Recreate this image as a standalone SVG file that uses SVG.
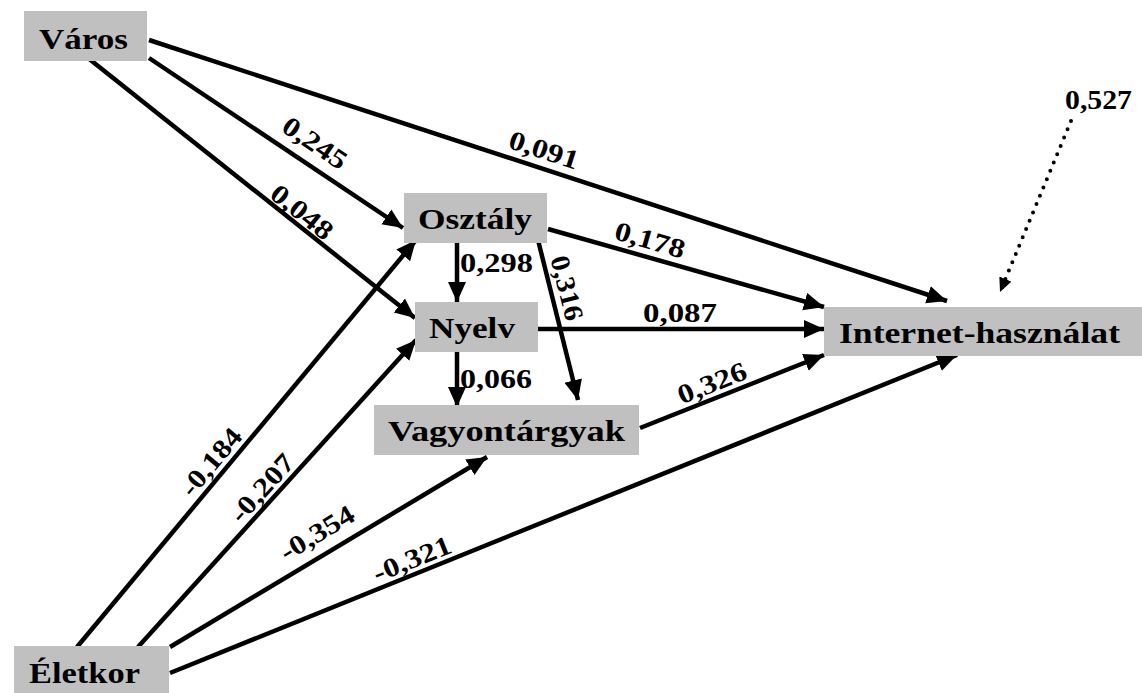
<svg xmlns="http://www.w3.org/2000/svg" width="1142" height="693" viewBox="0 0 1142 693">
<style>
.box{fill:#c0c0c0;stroke:none}
.nt{font-family:"Liberation Serif","Times New Roman",Times,serif;font-weight:bold;font-size:30px;fill:#000}
.lb{font-family:"Liberation Serif","Times New Roman",Times,serif;font-weight:bold;font-size:27px;fill:#000;text-anchor:middle}
.lh{font-family:"Liberation Serif","Times New Roman",Times,serif;font-weight:bold;font-size:27px;fill:#000}
.ed{stroke:#000;stroke-width:4.5;fill:none;marker-end:url(#ah)}
.dot{stroke:#000;stroke-width:4;fill:none;stroke-linecap:round;stroke-dasharray:0 9;marker-end:url(#ah2)}
</style>
<defs>
<marker id="ah" markerUnits="userSpaceOnUse" markerWidth="22" markerHeight="20" refX="20" refY="9" orient="auto">
<path d="M0,0 L20,9 L0,18 z" fill="#000"/>
</marker>
<marker id="ah2" markerUnits="userSpaceOnUse" markerWidth="16" markerHeight="14" refX="14" refY="6.5" orient="auto">
<path d="M0,0 L14,6.5 L0,13 z" fill="#000"/>
</marker>
</defs>
<rect width="1142" height="693" fill="#fff"/>
<g id="connectors">
<line class="ed" x1="149" y1="40" x2="947" y2="301"/>
<line class="ed" x1="149" y1="58" x2="403" y2="228"/>
<line class="ed" x1="88" y1="58" x2="415" y2="318"/>
<line class="ed" x1="457" y1="240" x2="457" y2="302"/>
<line class="ed" x1="538" y1="240" x2="578" y2="400"/>
<line class="ed" x1="457" y1="352" x2="457" y2="407"/>
<line class="ed" x1="548" y1="229" x2="824" y2="307"/>
<line class="ed" x1="538" y1="329" x2="824" y2="329"/>
<line class="ed" x1="640" y1="428" x2="824" y2="355"/>
<line class="ed" x1="77" y1="647" x2="416" y2="240"/>
<line class="ed" x1="138" y1="647" x2="416" y2="340"/>
<line class="ed" x1="170" y1="647" x2="487" y2="457"/>
<line class="ed" x1="170" y1="673" x2="957" y2="355"/>
<line class="dot" x1="1071" y1="121" x2="1000" y2="292"/>
<text class="lb" transform="translate(544,150) rotate(18)" y="9" textLength="72" lengthAdjust="spacingAndGlyphs">0,091</text>
<text class="lb" transform="translate(315,143) rotate(34)" y="9" textLength="72" lengthAdjust="spacingAndGlyphs">0,245</text>
<text class="lb" transform="translate(302,212) rotate(38.5)" y="9" textLength="72" lengthAdjust="spacingAndGlyphs">0,048</text>
<text class="lb" transform="translate(650,240) rotate(16)" y="9" textLength="72" lengthAdjust="spacingAndGlyphs">0,178</text>
<text class="lb" transform="translate(567,288) rotate(76)" y="9" textLength="66" lengthAdjust="spacingAndGlyphs">0,316</text>
<text class="lb" transform="translate(712,383) rotate(-21.6)" y="9" textLength="72" lengthAdjust="spacingAndGlyphs">0,326</text>
<text class="lb" transform="translate(211,462) rotate(-50)" y="9" textLength="80" lengthAdjust="spacingAndGlyphs">-0,184</text>
<text class="lb" transform="translate(262,488) rotate(-48)" y="9" textLength="82" lengthAdjust="spacingAndGlyphs">-0,207</text>
<text class="lb" transform="translate(317,533) rotate(-31)" y="9" textLength="82" lengthAdjust="spacingAndGlyphs">-0,354</text>
<text class="lb" transform="translate(412,559) rotate(-22)" y="9" textLength="82" lengthAdjust="spacingAndGlyphs">-0,321</text>
<text class="lh" x="460" y="272" textLength="73" lengthAdjust="spacingAndGlyphs">0,298</text>
<text class="lh" x="460" y="388" textLength="72" lengthAdjust="spacingAndGlyphs">0,066</text>
<text class="lh" x="643" y="322" textLength="74" lengthAdjust="spacingAndGlyphs">0,087</text>
<text class="lh" x="1065" y="109" textLength="67" lengthAdjust="spacingAndGlyphs">0,527</text>
</g>
<g id="varos"><rect class="box" x="24" y="11" width="123" height="50"/><text class="nt" x="39" y="49" textLength="89" lengthAdjust="spacingAndGlyphs">Város</text></g>
<g id="osztaly"><rect class="box" x="404" y="193" width="143" height="50"/><text class="nt" x="418" y="229" textLength="114" lengthAdjust="spacingAndGlyphs">Osztály</text></g>
<g id="nyelv"><rect class="box" x="415" y="302" width="123" height="50"/><text class="nt" x="429" y="338" textLength="86" lengthAdjust="spacingAndGlyphs">Nyelv</text></g>
<g id="vagyontargyak"><rect class="box" x="374" y="405" width="265" height="50"/><text class="nt" x="388" y="441" textLength="237" lengthAdjust="spacingAndGlyphs">Vagyontárgyak</text></g>
<g id="internet"><rect class="box" x="824" y="307" width="318" height="49"/><text class="nt" x="839" y="343" textLength="281" lengthAdjust="spacingAndGlyphs">Internet-használat</text></g>
<g id="eletkor"><rect class="box" x="14" y="646" width="155" height="47"/><text class="nt" x="29" y="683" textLength="111" lengthAdjust="spacingAndGlyphs">Életkor</text></g>
</svg>
